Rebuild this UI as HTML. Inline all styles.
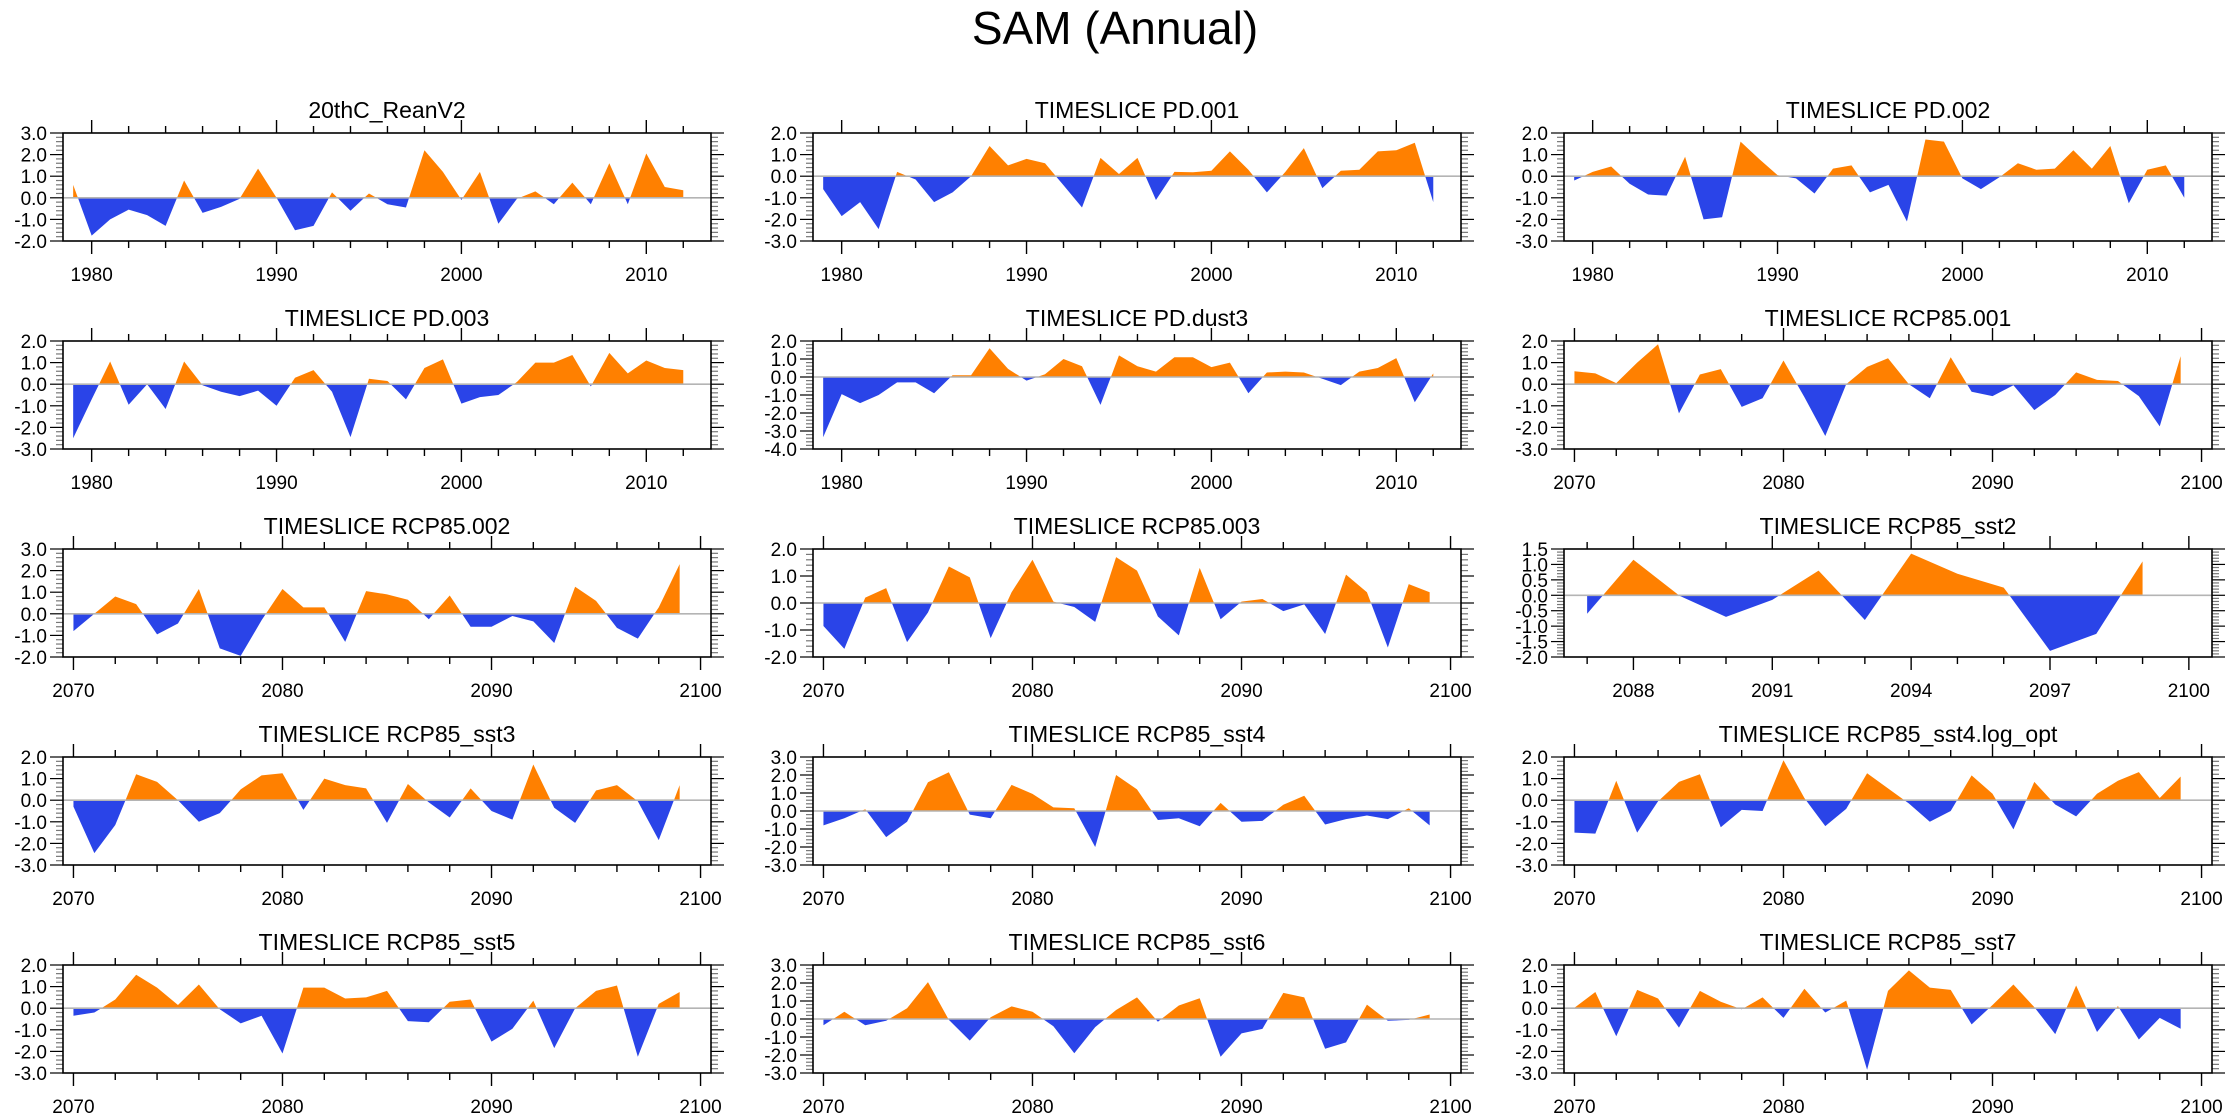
<!DOCTYPE html>
<html><head><meta charset="utf-8">
<style>
html,body{margin:0;padding:0;background:#fff;}
svg{display:block;font-family:"Liberation Sans",Arial,sans-serif;}
</style></head>
<body>
<svg id="chart" width="2230" height="1120" viewBox="0 0 2230 1120" xmlns="http://www.w3.org/2000/svg">
<text x="1115" y="44" text-anchor="middle" font-size="46" fill="#000">SAM (Annual)</text>
</svg>
<script>
const yearsPD = [1979,1980,1981,1982,1983,1984,1985,1986,1987,1988,1989,1990,1991,1992,1993,1994,1995,1996,1997,1998,1999,2000,2001,2002,2003,2004,2005,2006,2007,2008,2009,2010,2011,2012];
const yearsRCP = [2070,2071,2072,2073,2074,2075,2076,2077,2078,2079,2080,2081,2082,2083,2084,2085,2086,2087,2088,2089,2090,2091,2092,2093,2094,2095,2096,2097,2098,2099];
const yearsSST2 = [2087,2088,2089,2090,2091,2092,2093,2094,2095,2096,2097,2098,2099];

const valsReanV2 = [0.6,-1.75,-1.0,-0.55,-0.8,-1.3,0.8,-0.7,-0.42,-0.05,1.35,0.0,-1.5,-1.3,0.25,-0.6,0.2,-0.3,-0.45,2.2,1.2,-0.1,1.2,-1.2,-0.05,0.3,-0.3,0.7,-0.3,1.6,-0.3,2.05,0.5,0.35];
const valsPD001 = [-0.6,-1.85,-1.2,-2.45,0.2,-0.15,-1.2,-0.75,0.0,1.4,0.5,0.8,0.6,-0.42,-1.45,0.85,0.1,0.85,-1.1,0.2,0.18,0.25,1.15,0.3,-0.75,0.2,1.3,-0.55,0.25,0.3,1.15,1.2,1.55,-1.2];
const valsPD002 = [-0.2,0.2,0.45,-0.35,-0.85,-0.9,0.9,-2.0,-1.9,1.6,0.8,0.05,-0.1,-0.8,0.35,0.5,-0.75,-0.4,-2.1,1.7,1.6,-0.1,-0.6,-0.05,0.6,0.3,0.35,1.2,0.35,1.4,-1.25,0.3,0.5,-1.0];
const valsPD003 = [-2.5,-0.7,1.05,-0.95,0.0,-1.15,1.05,-0.05,-0.35,-0.55,-0.3,-1.0,0.3,0.65,-0.35,-2.45,0.25,0.15,-0.7,0.75,1.15,-0.9,-0.6,-0.5,0.1,1.0,1.0,1.35,-0.1,1.45,0.5,1.1,0.75,0.65];
const valsPDdust3 = [-3.35,-0.95,-1.45,-1.0,-0.3,-0.3,-0.9,0.1,0.1,1.6,0.45,-0.2,0.15,1.0,0.6,-1.55,1.2,0.6,0.3,1.1,1.1,0.55,0.8,-0.9,0.25,0.3,0.25,-0.1,-0.45,0.3,0.5,1.05,-1.4,0.2];
const valsRCP001 = [0.6,0.5,0.05,1.0,1.85,-1.35,0.45,0.7,-1.05,-0.65,1.1,-0.6,-2.4,0.0,0.8,1.2,0.0,-0.65,1.25,-0.35,-0.55,-0.05,-1.2,-0.5,0.55,0.2,0.15,-0.55,-1.95,1.3];
const valsRCP002 = [-0.8,0.0,0.8,0.45,-0.95,-0.45,1.15,-1.6,-1.95,-0.3,1.15,0.3,0.3,-1.3,1.05,0.9,0.65,-0.25,0.85,-0.6,-0.6,-0.1,-0.35,-1.35,1.25,0.6,-0.65,-1.15,0.3,2.3];
const valsRCP003 = [-0.85,-1.7,0.2,0.55,-1.45,-0.35,1.35,0.95,-1.3,0.4,1.6,0.05,-0.15,-0.7,1.7,1.2,-0.5,-1.2,1.3,-0.6,0.05,0.15,-0.3,-0.05,-1.15,1.05,0.4,-1.65,0.7,0.4];
const valsSST2 = [-0.6,1.15,-0.02,-0.7,-0.15,0.8,-0.8,1.35,0.7,0.25,-1.8,-1.25,1.1];
const valsSST3 = [-0.3,-2.45,-1.15,1.2,0.85,0.0,-1.0,-0.6,0.5,1.15,1.25,-0.45,1.0,0.7,0.55,-1.05,0.75,-0.1,-0.8,0.55,-0.5,-0.9,1.65,-0.35,-1.05,0.45,0.7,-0.05,-1.85,0.7];
const valsSST4 = [-0.8,-0.4,0.1,-1.45,-0.6,1.6,2.15,-0.2,-0.4,1.45,0.95,0.2,0.15,-2.0,2.0,1.2,-0.5,-0.4,-0.85,0.45,-0.6,-0.55,0.35,0.85,-0.75,-0.45,-0.25,-0.45,0.15,-0.8];
const valsSST4log = [-1.5,-1.55,0.9,-1.5,-0.05,0.85,1.2,-1.25,-0.45,-0.5,1.85,0.1,-1.2,-0.4,1.25,0.55,-0.15,-1.0,-0.5,1.15,0.3,-1.35,0.85,-0.2,-0.75,0.3,0.9,1.3,0.1,1.1];
const valsSST5 = [-0.35,-0.2,0.4,1.55,0.95,0.15,1.1,-0.05,-0.7,-0.35,-2.1,0.95,0.95,0.45,0.5,0.8,-0.6,-0.65,0.3,0.4,-1.55,-0.95,0.35,-1.85,0.0,0.8,1.05,-2.25,0.2,0.75];
const valsSST6 = [-0.35,0.4,-0.35,-0.1,0.6,2.05,-0.05,-1.2,0.1,0.7,0.4,-0.4,-1.9,-0.45,0.5,1.2,-0.15,0.75,1.15,-2.1,-0.8,-0.55,1.45,1.2,-1.65,-1.3,0.8,-0.1,-0.05,0.25];
const valsSST7 = [0.02,0.75,-1.3,0.85,0.45,-0.9,0.8,0.3,-0.05,0.5,-0.45,0.9,-0.2,0.35,-2.85,0.8,1.75,0.95,0.85,-0.75,0.15,1.1,0.05,-1.2,1.05,-1.1,0.1,-1.45,-0.45,-0.95];

const titles = ["20thC_ReanV2","TIMESLICE PD.001","TIMESLICE PD.002","TIMESLICE PD.003","TIMESLICE PD.dust3","TIMESLICE RCP85.001","TIMESLICE RCP85.002","TIMESLICE RCP85.003","TIMESLICE RCP85_sst2","TIMESLICE RCP85_sst3","TIMESLICE RCP85_sst4","TIMESLICE RCP85_sst4.log_opt","TIMESLICE RCP85_sst5","TIMESLICE RCP85_sst6","TIMESLICE RCP85_sst7"];
const yMins = [-2,-3,-3,-3,-4,-3,-2,-2,-2,-3,-3,-3,-3,-3,-3];
const yMaxs = [3,2,2,2,2,2,3,2,1.5,2,3,2,2,3,2];

const SVGNS = "http://www.w3.org/2000/svg";
const svg = document.getElementById("chart");
const COLL = [63, 813, 1564];
const ROWT = [133, 341, 549, 757, 965];
const W = 648, H = 108;
const POS = "#ff8000", NEG = "#2a44e8";

function mk(tag, attrs, parent){
  const e = document.createElementNS(SVGNS, tag);
  for (const k in attrs) e.setAttribute(k, attrs[k]);
  (parent||svg).appendChild(e);
  return e;
}

const panelDefs = [
  [yearsPD, valsReanV2, "pd"],[yearsPD, valsPD001, "pd"],[yearsPD, valsPD002, "pd"],
  [yearsPD, valsPD003, "pd"],[yearsPD, valsPDdust3, "pd"],[yearsRCP, valsRCP001, "rcp"],
  [yearsRCP, valsRCP002, "rcp"],[yearsRCP, valsRCP003, "rcp"],[yearsSST2, valsSST2, "sst2"],
  [yearsRCP, valsSST3, "rcp"],[yearsRCP, valsSST4, "rcp"],[yearsRCP, valsSST4log, "rcp"],
  [yearsRCP, valsSST5, "rcp"],[yearsRCP, valsSST6, "rcp"],[yearsRCP, valsSST7, "rcp"]
];

panelDefs.forEach(function(def, i){
  const xs = def[0], vs = def[1], kind = def[2];
  const L = COLL[i % 3], T = ROWT[Math.floor(i / 3)];
  let xmin, xmax, majStep, minStep, firstMaj;
  if (kind === "pd") { xmin = 1978.45; xmax = 2013.5; majStep = 10; minStep = 2; firstMaj = 1980; }
  else if (kind === "rcp") { xmin = 2069.5; xmax = 2100.5; majStep = 10; minStep = 2; firstMaj = 2070; }
  else { xmin = 2086.5; xmax = 2100.5; majStep = 3; minStep = 1; firstMaj = 2088; }
  const ymin = yMins[i], ymax = yMaxs[i];
  const ymaj = (kind === "sst2") ? 0.5 : 1.0;
  const ymin_step = ymaj / 5;
  const X = function(yr){ return L + (yr - xmin) / (xmax - xmin) * W; };
  const Y = function(v){ return T + (ymax - v) / (ymax - ymin) * H; };

  const g = mk("g", {});
  
  

  const t = mk("text", {x: L + W/2, y: T - 15, "text-anchor": "middle", "font-size": "23", fill: "#000"}, g);
  t.textContent = titles[i];
  
  

  const pts = [];
  for (let k = 0; k < xs.length; k++) {
    if (k > 0) {
      const v0 = vs[k-1], v1 = vs[k];
      if ((v0 > 0 && v1 < 0) || (v0 < 0 && v1 > 0)) {
        const f = v0 / (v0 - v1);
        pts.push([xs[k-1] + f * (xs[k] - xs[k-1]), 0]);
      }
    }
    pts.push([xs[k], vs[k]]);
  }
  function area(sign){
    let d = "M" + X(pts[0][0]).toFixed(2) + "," + Y(0).toFixed(2);
    pts.forEach(function(p){
      const v = sign > 0 ? Math.max(p[1], 0) : Math.min(p[1], 0);
      d += "L" + X(p[0]).toFixed(2) + "," + Y(v).toFixed(2);
    });
    d += "L" + X(pts[pts.length-1][0]).toFixed(2) + "," + Y(0).toFixed(2) + "Z";
    return d;
  }
  const pa = mk("path", {d: area(1), fill: POS, stroke: "none"}, g);
  
  
  const na = mk("path", {d: area(-1), fill: NEG, stroke: "none"}, g);
  
  

  const zl = mk("line", {x1: L, x2: L + W, y1: Y(0), y2: Y(0), stroke: "#b4b4b4", "stroke-width": "1.6"}, g);
  
  

  for (let yr = Math.ceil(xmin); yr <= xmax; yr++) {
    if ((yr - firstMaj) % minStep !== 0) continue;
    const isMaj = ((yr - firstMaj) % majStep === 0);
    const len = isMaj ? 13 : 7;
    const x = X(yr);
    mk("line", {x1: x, x2: x, y1: T + H, y2: T + H + len, stroke: "#000", "stroke-width": "1.4"}, g);
    mk("line", {x1: x, x2: x, y1: T, y2: T - len, stroke: "#000", "stroke-width": "1.4"}, g);
    if (isMaj) {
      const lb = mk("text", {x: x, y: T + H + 40, "text-anchor": "middle", "font-size": "19", fill: "#000"}, g);
      lb.textContent = String(yr);
      
      
    }
  }
  const nMin = Math.round((ymax - ymin) / ymin_step);
  for (let k = 0; k <= nMin; k++) {
    const v = ymin + k * ymin_step;
    const isMaj = (k % 5 === 0);
    const len = isMaj ? 13 : 7;
    const y = Y(v);
    mk("line", {x1: L - len, x2: L, y1: y, y2: y, stroke: isMaj ? "#000" : "#777", "stroke-width": "1.2"}, g);
    mk("line", {x1: L + W, x2: L + W + len, y1: y, y2: y, stroke: isMaj ? "#000" : "#777", "stroke-width": "1.2"}, g);
    if (isMaj) {
      const lb = mk("text", {x: L - 16, y: y + 7, "text-anchor": "end", "font-size": "19", fill: "#000"}, g);
      lb.textContent = v.toFixed(1);
      
      
    }
  }
  const box = mk("rect", {x: L, y: T, width: W, height: H, fill: "none", stroke: "#000", "stroke-width": "1.6"}, g);
  
  
});
</script>
</body></html>
